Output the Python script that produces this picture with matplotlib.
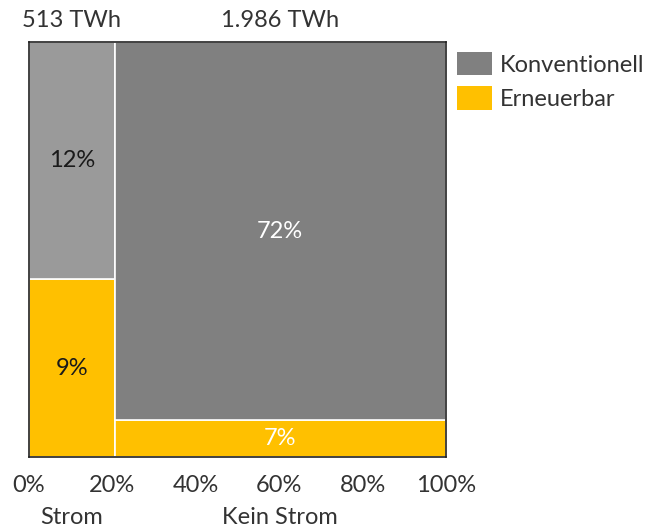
import numpy as np
import matplotlib.pyplot as plt
from matplotlib.patches import Patch

plt.rcParams['font.family'] = ['Lato', 'DejaVu Sans']

categories = ['Strom', 'Kein Strom']
totals_twh = [513, 1986]
total_labels = ['513 TWh', '1.986 TWh']
konventionell = [12, 72]   # % of total energy
erneuerbar = [9, 7]

KONV_COLORS = ['#9a9a9a', '#808080']
ERN_COLOR = '#ffc000'
KONV_TEXT = ['#1a1a1a', 'white']
ERN_TEXT = ['#1a1a1a', 'white']
TXT = '#333333'
FS = 17

tot = np.array(totals_twh, dtype=float)
widths = tot / tot.sum()
lefts = np.concatenate([[0], np.cumsum(widths)[:-1]])
konv = np.array(konventionell, dtype=float)
ern = np.array(erneuerbar, dtype=float)
ern_h = ern / (konv + ern)
konv_h = 1 - ern_h

fig = plt.figure(figsize=(6.46, 5.27), dpi=100)
ax = fig.add_axes([29 / 646, 1 - 457 / 527, 417 / 646, 415 / 527])

for i in range(len(categories)):
    ax.bar(lefts[i], ern_h[i], width=widths[i], align='edge',
           color=ERN_COLOR, edgecolor='white', linewidth=1.2)
    ax.bar(lefts[i], konv_h[i], bottom=ern_h[i], width=widths[i],
           align='edge', color=KONV_COLORS[i], edgecolor='white', linewidth=1.2)
    cx = lefts[i] + widths[i] / 2
    ax.text(cx, ern_h[i] / 2, f'{erneuerbar[i]}%', ha='center', va='center',
            fontsize=FS, color=ERN_TEXT[i])
    ax.text(cx, ern_h[i] + konv_h[i] / 2, f'{konventionell[i]}%',
            ha='center', va='center', fontsize=FS, color=KONV_TEXT[i])
    ax.text(cx, 1.053, total_labels[i], ha='center', va='center',
            fontsize=FS, color=TXT)
    ax.text(cx, -0.145, categories[i], ha='center', va='center',
            fontsize=FS, color=TXT)

ax.set_xlim(0, 1)
ax.set_ylim(0, 1)
ax.set_xticks(np.linspace(0, 1, 6))
ax.set_xticklabels([f'{int(v)}%' for v in np.linspace(0, 100, 6)])
ax.tick_params(axis='x', length=0, pad=13, labelsize=FS, labelcolor=TXT)
ax.set_yticks([])
for s in ax.spines.values():
    s.set_color('#222222')
    s.set_linewidth(1.2)

handles = [Patch(facecolor='#808080', label='Konventionell'),
           Patch(facecolor=ERN_COLOR, label='Erneuerbar')]
fig.legend(handles=handles, loc='upper left', bbox_to_anchor=(457 / 646, 1 - 52 / 527),
           frameon=False, fontsize=FS, handlelength=1.48, handleheight=1.15,
           handletextpad=0.35, labelspacing=0.45, borderpad=0, borderaxespad=0,
           labelcolor=TXT)

fig.savefig('out.png', dpi=100)
